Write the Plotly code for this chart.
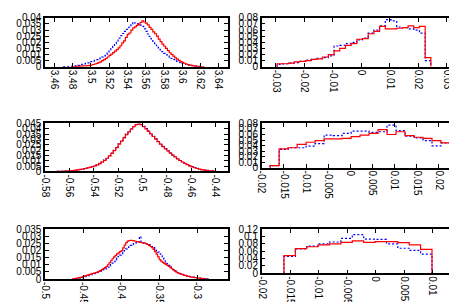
import plotly.graph_objects as go

# ---------------- data ----------------
# Panel 1 (top-left): bins of width 0.002
p1_red_start, p1_red_bw = 3.480, 0.002
p1_red = [0.0002, 0.0002, 0.0003, 0.0004, 0.0005, 0.0006, 0.0007, 0.0008, 0.0010, 0.0012,
          0.0015, 0.0019, 0.0023, 0.0028, 0.0034, 0.0041, 0.0050, 0.0058, 0.0068, 0.0080,
          0.0094, 0.0104, 0.0116, 0.0128, 0.0141, 0.0155, 0.0172, 0.0195, 0.0212, 0.0240,
          0.0265, 0.0276, 0.0300, 0.0318, 0.0326, 0.0339, 0.0347, 0.0362, 0.0375, 0.0366,
          0.0357, 0.0343, 0.0322, 0.0305, 0.0286, 0.0270, 0.0250, 0.0226, 0.0205, 0.0186,
          0.0168, 0.0150, 0.0132, 0.0115, 0.0101, 0.0088, 0.0074, 0.0062, 0.0052, 0.0043,
          0.0036, 0.0029, 0.0023, 0.0018, 0.0014, 0.0011, 0.0008, 0.0006, 0.0004, 0.0003,
          0.0002, 0.0001]
p1_blue_start, p1_blue_bw = 3.470, 0.002
p1_blue = [0.0001, 0.0001, 0.0002, 0.0003, 0.0004, 0.0005, 0.0007, 0.0009, 0.0012, 0.0016,
           0.0020, 0.0024, 0.0028, 0.0032, 0.0037, 0.0042, 0.0047, 0.0052, 0.0058, 0.0064,
           0.0071, 0.0080, 0.0090, 0.0102, 0.0115, 0.0130, 0.0148, 0.0168, 0.0190, 0.0212,
           0.0235, 0.0254, 0.0272, 0.0290, 0.0306, 0.0320, 0.0335, 0.0350, 0.0365, 0.0358,
           0.0352, 0.0346, 0.0340, 0.0330, 0.0310, 0.0290, 0.0268, 0.0248, 0.0228, 0.0208,
           0.0190, 0.0172, 0.0155, 0.0139, 0.0124, 0.0110, 0.0098, 0.0087, 0.0077, 0.0068,
           0.0060, 0.0052, 0.0045, 0.0039, 0.0034, 0.0029, 0.0024, 0.0019, 0.0015, 0.0012,
           0.0009, 0.0007, 0.0005, 0.0003, 0.0002]

# Panel 2 (top-right)
p2_start, p2_bw = -0.0296, 0.002
p2_red = [0.005, 0.005, 0.006, 0.008, 0.009, 0.010, 0.012, 0.013, 0.016, 0.020,
          0.026, 0.030, 0.035, 0.038, 0.045, 0.046, 0.054, 0.058, 0.066, 0.062,
          0.062, 0.063, 0.064, 0.067, 0.064, 0.066, 0.015]
p2_blue = [0.004, 0.005, 0.006, 0.007, 0.009, 0.011, 0.012, 0.014, 0.015, 0.018,
           0.034, 0.035, 0.038, 0.040, 0.044, 0.047, 0.055, 0.060, 0.067, 0.077,
           0.075, 0.065, 0.064, 0.062, 0.060, 0.055, 0.010]

# Panel 3 (middle-left)
p3_start, p3_bw = -0.570, 0.002
p3_red = [0.0001, 0.0002, 0.0003, 0.0004, 0.0005, 0.0007, 0.0009, 0.0012, 0.0015, 0.0019,
          0.0023, 0.0028, 0.0033, 0.0039, 0.0045, 0.0053, 0.0062, 0.0073, 0.0088, 0.0105,
          0.0124, 0.0146, 0.0170, 0.0196, 0.0224, 0.0256, 0.0285, 0.0315, 0.0345, 0.0372,
          0.0398, 0.0420, 0.0440, 0.0446, 0.0440, 0.0420, 0.0398, 0.0376, 0.0352, 0.0328,
          0.0303, 0.0280, 0.0256, 0.0233, 0.0212, 0.0192, 0.0172, 0.0154, 0.0136, 0.0119,
          0.0103, 0.0089, 0.0076, 0.0064, 0.0053, 0.0043, 0.0035, 0.0028, 0.0022, 0.0017,
          0.0013, 0.0010, 0.0007, 0.0005, 0.0003]
p3_blue = [0.0001, 0.0001, 0.0002, 0.0004, 0.0005, 0.0006, 0.0008, 0.0011, 0.0014, 0.0018,
           0.0022, 0.0027, 0.0032, 0.0038, 0.0046, 0.0055, 0.0065, 0.0077, 0.0091, 0.0108,
           0.0126, 0.0148, 0.0173, 0.0199, 0.0229, 0.0260, 0.0292, 0.0320, 0.0350, 0.0375,
           0.0400, 0.0421, 0.0438, 0.0443, 0.0438, 0.0424, 0.0402, 0.0380, 0.0356, 0.0330,
           0.0306, 0.0282, 0.0258, 0.0236, 0.0214, 0.0194, 0.0174, 0.0156, 0.0138, 0.0121,
           0.0105, 0.0091, 0.0078, 0.0066, 0.0055, 0.0045, 0.0037, 0.0029, 0.0023, 0.0018,
           0.0014, 0.0010, 0.0008, 0.0005, 0.0003]

# Panel 4 (middle-right)
p4_start, p4_bw = -0.0181, 0.00203
p4_red = [0.0035, 0.034, 0.036, 0.042, 0.046, 0.049, 0.052, 0.052, 0.053, 0.056,
          0.059, 0.062, 0.069, 0.060, 0.065, 0.058, 0.055, 0.053, 0.049, 0.045, 0.008]
p4_blue = [0.0035, 0.033, 0.036, 0.036, 0.039, 0.0435, 0.059, 0.058, 0.062, 0.066,
           0.066, 0.064, 0.065, 0.077, 0.067, 0.057, 0.054, 0.049, 0.0395, 0.045, 0.0105]

# Panel 5 (bottom-left)
p5_red_start, p5_red_bw = -0.464, 0.002
p5_red = [0.0002, 0.0003, 0.0005, 0.0008, 0.0010, 0.0012, 0.0015, 0.0018, 0.0022, 0.0026,
          0.0029, 0.0033, 0.0036, 0.0039, 0.0042, 0.0045, 0.0049, 0.0053, 0.0059, 0.0066,
          0.0073, 0.0080, 0.0088, 0.0100, 0.0114, 0.0128, 0.0142, 0.0155, 0.0166, 0.0176,
          0.0184, 0.0192, 0.0200, 0.0218, 0.0238, 0.0255, 0.0266, 0.0270, 0.0272, 0.0270,
          0.0268, 0.0265, 0.0262, 0.0260, 0.0258, 0.0256, 0.0254, 0.0252, 0.0248, 0.0242,
          0.0236, 0.0228, 0.0220, 0.0208, 0.0192, 0.0175, 0.0155, 0.0136, 0.0125, 0.0117,
          0.0110, 0.0103, 0.0096, 0.0088, 0.0080, 0.0072, 0.0064, 0.0056, 0.0049, 0.0043,
          0.0038, 0.0034, 0.0031, 0.0027, 0.0024, 0.0021, 0.0018, 0.0016, 0.0014, 0.0012,
          0.0010, 0.0009, 0.0007, 0.0006, 0.0004, 0.0003, 0.0002, 0.0001]
p5_blue_start, p5_blue_bw = -0.460, 0.002
p5_blue = [0.0002, 0.0004, 0.0006, 0.0008, 0.0010, 0.0013, 0.0016, 0.0020, 0.0024, 0.0027,
           0.0030, 0.0034, 0.0038, 0.0042, 0.0046, 0.0050, 0.0055, 0.0060, 0.0065, 0.0070,
           0.0075, 0.0083, 0.0092, 0.0102, 0.0112, 0.0122, 0.0134, 0.0146, 0.0158, 0.0168,
           0.0176, 0.0188, 0.0200, 0.0212, 0.0222, 0.0230, 0.0236, 0.0242, 0.0248, 0.0254,
           0.0258, 0.0262, 0.0298, 0.0260, 0.0254, 0.0250, 0.0248, 0.0244, 0.0242, 0.0236,
           0.0228, 0.0220, 0.0212, 0.0200, 0.0188, 0.0176, 0.0162, 0.0148, 0.0134, 0.0120,
           0.0108, 0.0096, 0.0085, 0.0075, 0.0066, 0.0058, 0.0051, 0.0045, 0.0040, 0.0036,
           0.0032, 0.0028, 0.0025, 0.0022, 0.0019, 0.0017, 0.0015, 0.0013, 0.0011, 0.0009,
           0.0008, 0.0006, 0.0005, 0.0004, 0.0003, 0.0002, 0.0001, 0.0001]

# Panel 6 (bottom-right)
p6_start, p6_bw = -0.0161, 0.002
p6_red = [0.048, 0.067, 0.072, 0.077, 0.080, 0.084, 0.088, 0.084, 0.086, 0.086, 0.083, 0.077, 0.065]
p6_blue = [0.046, 0.066, 0.074, 0.080, 0.085, 0.095, 0.105, 0.093, 0.092, 0.080, 0.068, 0.062, 0.052]

# tick labels
p1_xt = ["3.46", "3.48", "3.5", "3.52", "3.54", "3.56", "3.58", "3.6", "3.62", "3.64"]
p1_yt = ["0", "0.005", "0.01", "0.015", "0.02", "0.025", "0.03", "0.035", "0.04"]
p2_xt = ["-0.03", "-0.02", "-0.01", "0", "0.01", "0.02", "0.03"]
p2_yt = ["0", "0.01", "0.02", "0.03", "0.04", "0.05", "0.06", "0.07", "0.08"]
p3_xt = ["-0.58", "-0.56", "-0.54", "-0.52", "-0.5", "-0.48", "-0.46", "-0.44"]
p3_yt = ["0", "0.005", "0.01", "0.015", "0.02", "0.025", "0.03", "0.035", "0.04", "0.045"]
p4_xt = ["-0.02", "-0.015", "-0.01", "-0.005", "0", "0.005", "0.01", "0.015", "0.02", "0.025"]
p4_yt = ["0", "0.01", "0.02", "0.03", "0.04", "0.05", "0.06", "0.07", "0.08"]
p5_xt = ["-0.5", "-0.45", "-0.4", "-0.35", "-0.3"]
p5_yt = ["0", "0.005", "0.01", "0.015", "0.02", "0.025", "0.03", "0.035"]
p6_xt = ["-0.02", "-0.015", "-0.01", "-0.005", "0", "0.005", "0.01", "0.015"]
p6_yt = ["0", "0.02", "0.04", "0.06", "0.08", "0.1", "0.12"]

# ---------------- helpers ----------------
W, H = 457, 302
LABEL_LIFT = -2  # px offset of the label-only axis relative to the frame bottom


def step_xy(start, bw, vals):
    edges = [start + i * bw for i in range(len(vals) + 1)]
    xs = [edges[0]] + edges + [edges[-1]]
    ys = [0] + list(vals) + [vals[-1], 0]
    return xs, ys


panels = [
    (p1_red_start, p1_red_bw, p1_red, p1_blue_start, p1_blue_bw, p1_blue,
     [3.45, 3.65], [0, 0.04], p1_xt, p1_yt, (32.5, 217, 4, 55)),
    (p2_start, p2_bw, p2_red, p2_start, p2_bw, p2_blue,
     [-0.035, 0.035], [0, 0.08], p2_xt, p2_yt, (251.5, 453, 4, 55)),
    (p3_start, p3_bw, p3_red, p3_start, p3_bw, p3_blue,
     [-0.58, -0.43], [0, 0.045], p3_xt, p3_yt, (32.5, 217, 114, 164)),
    (p4_start, p4_bw, p4_red, p4_start, p4_bw, p4_blue,
     [-0.02, 0.025], [0, 0.08], p4_xt, p4_yt, (251.5, 453, 114, 160)),
    (p5_red_start, p5_red_bw, p5_red, p5_blue_start, p5_blue_bw, p5_blue,
     [-0.5, -0.26], [0, 0.035], p5_xt, p5_yt, (32.5, 217, 224, 276)),
    (p6_start, p6_bw, p6_red, p6_start, p6_bw, p6_blue,
     [-0.02, 0.015], [0, 0.12], p6_xt, p6_yt, (251.5, 453, 224, 270)),
]

fig = go.Figure()
layout = dict(
    width=W, height=H,
    margin=dict(l=0, r=0, t=0, b=0),
    paper_bgcolor="white", plot_bgcolor="white",
    showlegend=False,
    font=dict(family="Liberation Sans, Arial, sans-serif", size=10, color="black"),
)

n = len(panels)
for i, (rs, rbw, rv, bs, bbw, bv, xr, yr, xt, yt, box) in enumerate(panels, start=1):
    xa = "x" if i == 1 else f"x{i}"
    ya = "y" if i == 1 else f"y{i}"
    xl = f"x{n + i}"
    x0, x1, y0, y1 = box
    bx, by = step_xy(bs, bbw, bv)
    rx, ry = step_xy(rs, rbw, rv)
    fig.add_trace(go.Scatter(x=bx, y=by, mode="lines", line_shape="hv",
                             line=dict(color="#0000ff", width=1.2, dash="2px,2px"),
                             xaxis=xa, yaxis=ya, hoverinfo="skip"))
    fig.add_trace(go.Scatter(x=rx, y=ry, mode="lines", line_shape="hv",
                             line=dict(color="#ff0000", width=1.2),
                             xaxis=xa, yaxis=ya, hoverinfo="skip"))
    # invisible trace so the label-only axis gets drawn
    fig.add_trace(go.Scatter(x=[xr[0]], y=[yr[0]], mode="markers",
                             marker=dict(size=1, opacity=0),
                             xaxis=xl, yaxis=ya, hoverinfo="skip"))
    common = dict(showline=True, linecolor="black", linewidth=1.5, mirror="ticks",
                  ticks="inside", ticklen=4, tickwidth=1, tickcolor="black",
                  showgrid=False, zeroline=False, tickmode="array", fixedrange=True)
    xdom = [x0 / W, x1 / W]
    layout["xaxis" if i == 1 else f"xaxis{i}"] = dict(
        common, domain=xdom, anchor=ya, range=xr,
        tickvals=[float(t) for t in xt], showticklabels=False)
    layout["yaxis" if i == 1 else f"yaxis{i}"] = dict(
        common, domain=[1 - y1 / H, 1 - y0 / H], anchor=xa, range=yr,
        tickvals=[float(t) for t in yt], ticktext=yt,
        tickfont=dict(color="black"))
    # label-only axis, overlaying the panel's x axis
    layout[f"xaxis{n + i}"] = dict(
        overlaying=xa, domain=xdom, anchor="free",
        position=1 - (y1 - LABEL_LIFT) / H, range=xr,
        showline=False, ticks="", showgrid=False, zeroline=False,
        tickmode="array", tickvals=[float(t) for t in xt], ticktext=xt,
        tickangle=90, fixedrange=True, tickfont=dict(color="black"))

fig.update_layout(**layout)
fig.write_html("out.html")
